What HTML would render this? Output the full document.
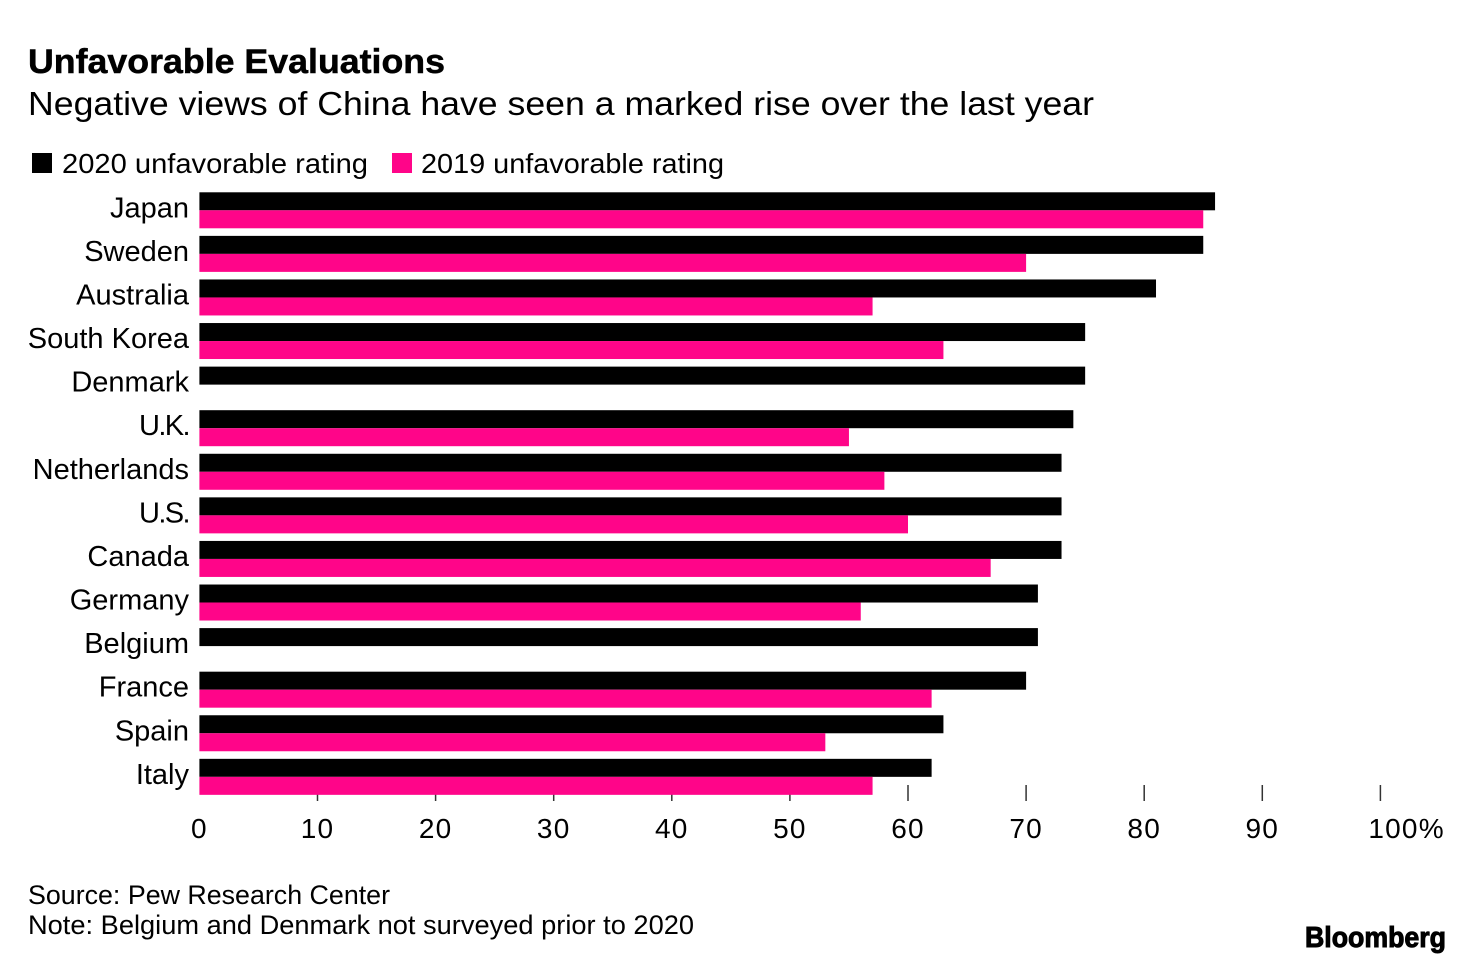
<!DOCTYPE html>
<html lang="en">
<head>
<meta charset="utf-8">
<title>Unfavorable Evaluations</title>
<style>
html,body{margin:0;padding:0;background:#fff;width:1473px;height:964px;overflow:hidden}
svg{display:block;font-family:"Liberation Sans",Arial,sans-serif;fill:#000}
</style>
</head>
<body>
<svg id="chart" xmlns="http://www.w3.org/2000/svg" width="1473" height="964" viewBox="0 0 1473 964">
  <rect x="0" y="0" width="1473" height="964" fill="#fff"/>
  <text x="28" y="73" font-size="34" font-weight="700" stroke="#000" stroke-width="0.5" textLength="417" lengthAdjust="spacingAndGlyphs">Unfavorable Evaluations</text>
  <text x="28" y="115" font-size="33" textLength="1066" lengthAdjust="spacingAndGlyphs">Negative views of China have seen a marked rise over the last year</text>
  <g>
    <rect x="32" y="153" width="20" height="20" fill="#000"/>
    <text x="62" y="173" font-size="28" textLength="306" lengthAdjust="spacingAndGlyphs">2020 unfavorable rating</text>
    <rect x="392" y="153" width="20" height="20" fill="#ff0589"/>
    <text x="421" y="173" font-size="28" textLength="303" lengthAdjust="spacingAndGlyphs">2019 unfavorable rating</text>
  </g>
  <g id="axis"></g>
  <g id="bars"></g>
  <g id="labels"></g>
  <text x="28" y="904" font-size="26.5" textLength="362" lengthAdjust="spacingAndGlyphs">Source: Pew Research Center</text>
  <text x="28" y="934" font-size="26.5" textLength="666" lengthAdjust="spacingAndGlyphs">Note: Belgium and Denmark not surveyed prior to 2020</text>
  <text x="1305" y="947" font-size="29" font-weight="700" stroke="#000" stroke-width="1" textLength="141" lengthAdjust="spacingAndGlyphs">Bloomberg</text>
</svg>
<script>
const categories = ["Japan","Sweden","Australia","South Korea","Denmark","U.K.","Netherlands","U.S.","Canada","Germany","Belgium","France","Spain","Italy"];
const values2020 = [86,85,81,75,75,74,73,73,73,71,71,70,63,62];
const values2019 = [85,70,57,63,null,55,58,60,67,56,null,62,53,57];
const tickValues = [0,10,20,30,40,50,60,70,80,90,100];
const tickLabels = ["0","10","20","30","40","50","60","70","80","90","100%"];

const SVG_NS = "http://www.w3.org/2000/svg";
const xZero = 199.4, xPerUnit = 11.81;
const yFirst = 192.3, yStep = 43.58, barH = 18;
const xScale = v => xZero + v * xPerUnit;
const yScale = i => yFirst + i * yStep;
const barsG = document.getElementById("bars");
const labelsG = document.getElementById("labels");
const axisG = document.getElementById("axis");

function makeBar(i, v, offset, color) {
  const r = document.createElementNS(SVG_NS, "rect");
  r.setAttribute("x", xScale(0));
  r.setAttribute("y", yScale(i) + offset);
  r.setAttribute("width", xScale(v) - xScale(0));
  r.setAttribute("height", barH);
  r.setAttribute("fill", color);
  return r;
}

categories.forEach((name, i) => {
  const slug = name.toLowerCase().replace(/[^a-z]+/g, "-").replace(/-$/, "");

  const b = makeBar(i, values2020[i], 0, "#000");
  
  
  barsG.appendChild(b);

  if (values2019[i] !== null) {
    const p = makeBar(i, values2019[i], barH, "#ff0589");
    
    
    barsG.appendChild(p);
  }

  const t = document.createElementNS(SVG_NS, "text");
  t.setAttribute("x", 189);
  t.setAttribute("y", yScale(i) + 25);
  t.setAttribute("text-anchor", "end");
  t.setAttribute("font-size", "29");
  if (name.includes(".")) t.setAttribute("letter-spacing", "-1.6");
  
  
  t.textContent = name;
  labelsG.appendChild(t);
});

tickValues.forEach((v, i) => {
  if (v !== 0) {
    const l = document.createElementNS(SVG_NS, "line");
    l.setAttribute("x1", xScale(v));
    l.setAttribute("x2", xScale(v));
    l.setAttribute("y1", 785);
    l.setAttribute("y2", 801);
    l.setAttribute("stroke", "#333");
    l.setAttribute("stroke-width", "1.5");
    
    
    axisG.appendChild(l);
  }
  const t = document.createElementNS(SVG_NS, "text");
  const isLast = i === tickValues.length - 1;
  t.setAttribute("x", isLast ? xScale(v) - 12 : xScale(v));
  t.setAttribute("y", 838);
  t.setAttribute("text-anchor", isLast ? "start" : "middle");
  t.setAttribute("font-size", "28");
  t.setAttribute("letter-spacing", "1.2");
  
  
  t.textContent = tickLabels[i];
  axisG.appendChild(t);
});
</script>
</body>
</html>
